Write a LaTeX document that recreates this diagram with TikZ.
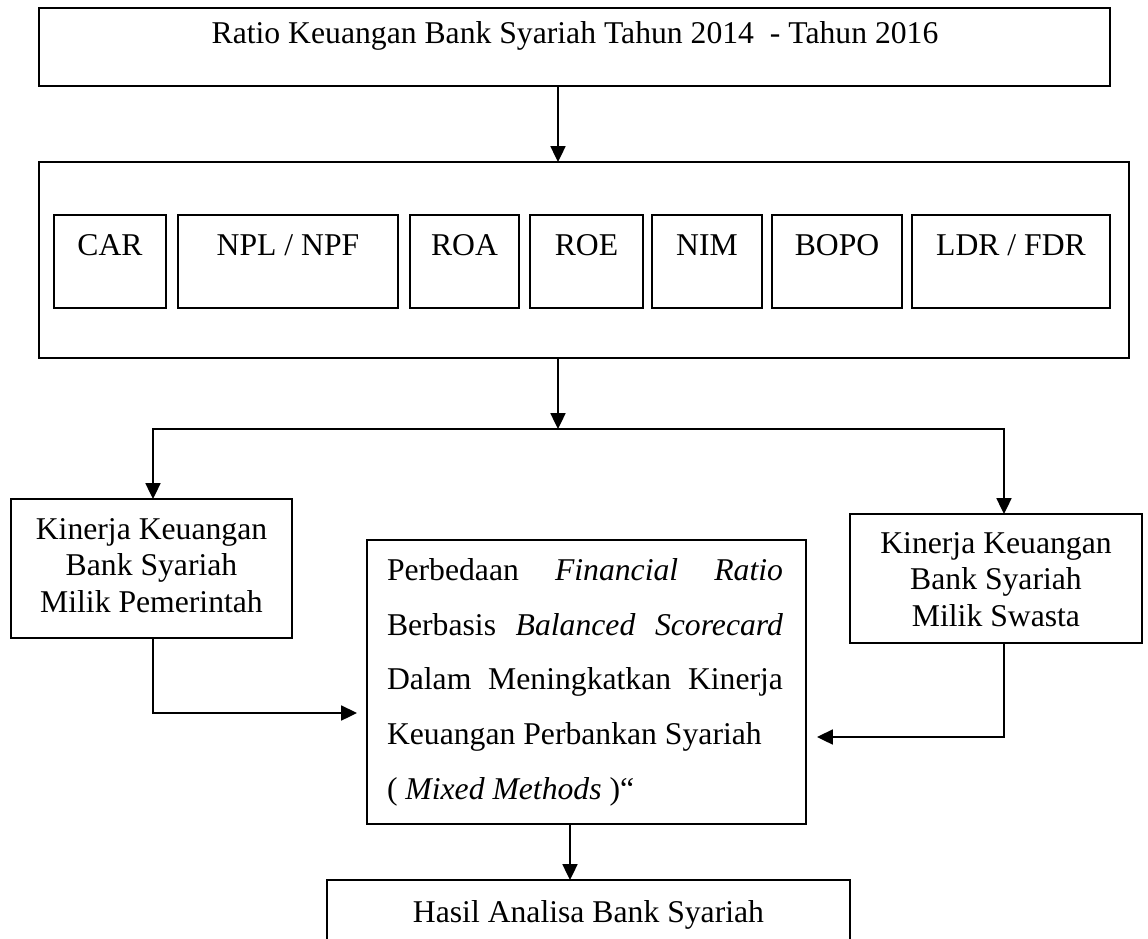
\documentclass[tikz,border=0pt]{standalone}
\usepackage{fontspec}
\setmainfont{Liberation Serif}
\usetikzlibrary{arrows.meta}
\begin{document}
\begin{tikzpicture}[x=0.3788pt,y=-0.3788pt,
  bx/.style 2 args={draw,line width=0.6pt,minimum width=#1*0.3788pt,minimum height=#2*0.3788pt,inner sep=0pt,outer sep=0pt},
  txt/.style={inner sep=0pt,outer sep=0pt,anchor=base,font=\fontsize{12}{13.83}\selectfont},
  arr/.style={line width=0.6pt,-{Triangle[length=6pt,width=5.7pt]}}]
\clip (0,0) rectangle (1148,938);
\fill[white] (0,0) rectangle (1148,938);
% top box
\node[bx={1071}{78},line width=0.8pt] (top) at (574.5,47) {};
\node[txt] (topT) at (575,43) {Ratio Keuangan Bank Syariah Tahun 2014~ - Tahun 2016};
% ratios box
\node[bx={1090}{196},line width=0.8pt] (ratios) at (584,260) {};
\node[bx={112}{93}] (car) at (110,261.5) {};
\node[txt] (carT) at (110,255) {CAR};
\node[bx={220}{93}] (npl) at (288,261.5) {};
\node[txt] (nplT) at (288,255) {NPL / NPF};
\node[bx={109}{93}] (roa) at (464.5,261.5) {};
\node[txt] (roaT) at (464.5,255) {ROA};
\node[bx={113}{93}] (roe) at (586.5,261.5) {};
\node[txt] (roeT) at (586.5,255) {ROE};
\node[bx={110}{93}] (nim) at (707,261.5) {};
\node[txt] (nimT) at (707,255) {NIM};
\node[bx={130}{93}] (bopo) at (837,261.5) {};
\node[txt] (bopoT) at (837,255) {BOPO};
\node[bx={198}{93}] (ldr) at (1011,261.5) {};
\node[txt] (ldrT) at (1011,255) {LDR / FDR};
% side boxes
\node[bx={281}{139}] (gov) at (151.5,568.5) {};
\node[txt] (govT) at (151.5,539) {\vtop{\hbox to0pt{\hss Kinerja Keuangan\hss}\hbox to0pt{\hss Bank Syariah\hss}\hbox to0pt{\hss Milik Pemerintah\hss}}};
\node[bx={292}{129}] (pvt) at (996,578.5) {};
\node[txt] (pvtT) at (996,553) {\vtop{\hbox to0pt{\hss Kinerja Keuangan\hss}\hbox to0pt{\hss Bank Syariah\hss}\hbox to0pt{\hss Milik Swasta\hss}}};
% middle box
\node[bx={439}{284}] (mid) at (586.5,682) {};
\node[txt,anchor=base west,font=\fontsize{12}{20.83}\selectfont] (midT) at (387,580) {\vtop{\hsize=150pt
\hbox to150pt{Perbedaan\hfill\textit{Financial}\hfill\textit{Ratio}}
\hbox to150pt{Berbasis\hfill\textit{Balanced}\hfill\textit{Scorecard}}
\hbox to150pt{Dalam\hfill Meningkatkan\hfill Kinerja}
\hbox{Keuangan Perbankan Syariah}
\hbox{( \textit{Mixed Methods} )“}}};
% result box
\node[bx={523}{120}] (res) at (588.5,940) {};
\node[txt] (resT) at (588.5,922) {Hasil Analisa Bank Syariah};
% connectors
\coordinate (spine) at (558,429);
\coordinate (gx) at (153,429);
\coordinate (px) at (1004,429);
\coordinate (gin) at (357,713);
\coordinate (pin) at (817,737);
\coordinate (mx) at (570,820);
\draw[arr] (top.south -| spine) -- (ratios.north -| spine);
\draw[arr] (ratios.south -| spine) -- (spine);
\draw[arr] (spine) -| (gov.north -| gx);
\draw[arr] (spine) -| (pvt.north -| px);
\draw[arr] (gov.south -| gx) |- (gin);
\draw[arr] (pvt.south -| px) |- (pin);
\draw[arr] (mid.south -| mx) -- (res.north -| mx);
\end{tikzpicture}
\end{document}
